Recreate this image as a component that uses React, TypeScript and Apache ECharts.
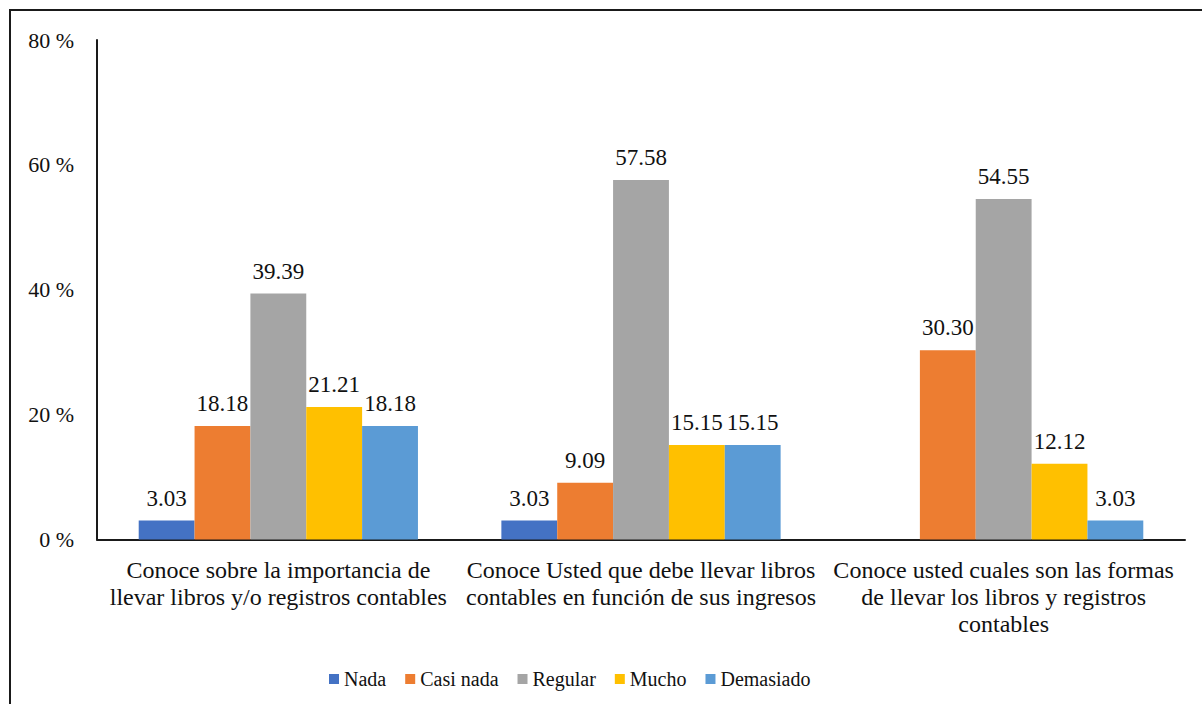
import React, { useEffect, useRef } from "react";
import * as echarts from "echarts";

// Survey questions (line breaks as laid out under the axis)
const categories = [
  "Conoce sobre la importancia de\nllevar libros y/o registros contables",
  "Conoce Usted que debe llevar libros\ncontables en función de sus ingresos",
  "Conoce usted cuales son las formas\nde llevar los libros y registros\ncontables",
];

const seriesNames = ["Nada", "Casi nada", "Regular", "Mucho", "Demasiado"];
const seriesColors = ["#4472C4", "#ED7D31", "#A5A5A5", "#FFC000", "#5B9BD5"];

// Percent of respondents per answer, one array per answer level
const nada = [3.03, 3.03, null];
const casiNada = [18.18, 9.09, 30.3];
const regular = [39.39, 57.58, 54.55];
const mucho = [21.21, 15.15, 12.12];
const demasiado = [18.18, 15.15, 3.03];

const seriesValues = [nada, casiNada, regular, mucho, demasiado];

const FONT = "Liberation Serif, Times New Roman, serif";
const TEXT = "#111111";

export default function App() {
  const ref = useRef<HTMLDivElement>(null);

  useEffect(() => {
    if (!ref.current) return;
    const chart = echarts.init(ref.current, undefined, { renderer: "svg" });
    chart.setOption({
      animation: false,
      backgroundColor: "#ffffff",
      textStyle: { fontFamily: FONT, color: TEXT },
      graphic: [
        {
          type: "rect",
          shape: { x: 10, y: 10, width: 1400, height: 900 },
          style: { fill: "none", stroke: "#1a1a1a", lineWidth: 2 },
          silent: true,
        },
      ],
      grid: { left: 97, right: 17, top: 40, bottom: 164.5 },
      legend: {
        left: 324,
        top: 664,
        itemWidth: 10,
        itemHeight: 10,
        itemGap: 19,
        icon: "rect",
        textStyle: { fontFamily: FONT, fontSize: 20, color: TEXT, lineHeight: 20 },
        data: seriesNames,
      },
      xAxis: {
        type: "category",
        data: categories,
        axisTick: { show: false },
        axisLine: { lineStyle: { color: "#1a1a1a", width: 2 } },
        axisLabel: {
          interval: 0,
          margin: 17,
          fontFamily: FONT,
          fontSize: 24,
          lineHeight: 27,
          color: TEXT,
          align: "center",
        },
      },
      yAxis: {
        type: "value",
        min: 0,
        max: 80,
        interval: 20,
        splitLine: { show: false },
        axisTick: { show: false },
        axisLine: { show: true, lineStyle: { color: "#1a1a1a", width: 2 } },
        axisLabel: {
          formatter: "{value} %",
          margin: 23,
          fontFamily: FONT,
          fontSize: 22,
          color: TEXT,
        },
      },
      series: seriesNames.map((name, i) => ({
        name,
        type: "bar",
        data: seriesValues[i],
        barGap: "0%",
        barCategoryGap: "23%",
        itemStyle: { color: seriesColors[i] },
        label: {
          show: true,
          position: "top",
          distance: 11,
          fontFamily: FONT,
          fontSize: 23,
          color: TEXT,
          formatter: (p: any) => (p.value == null ? "" : Number(p.value).toFixed(2)),
        },
      })),
    });
    return () => chart.dispose();
  }, []);

  return (
    <div
      ref={ref}
      style={{ position: "fixed", left: 0, top: 0, width: 1202, height: 704 }}
    />
  );
}
